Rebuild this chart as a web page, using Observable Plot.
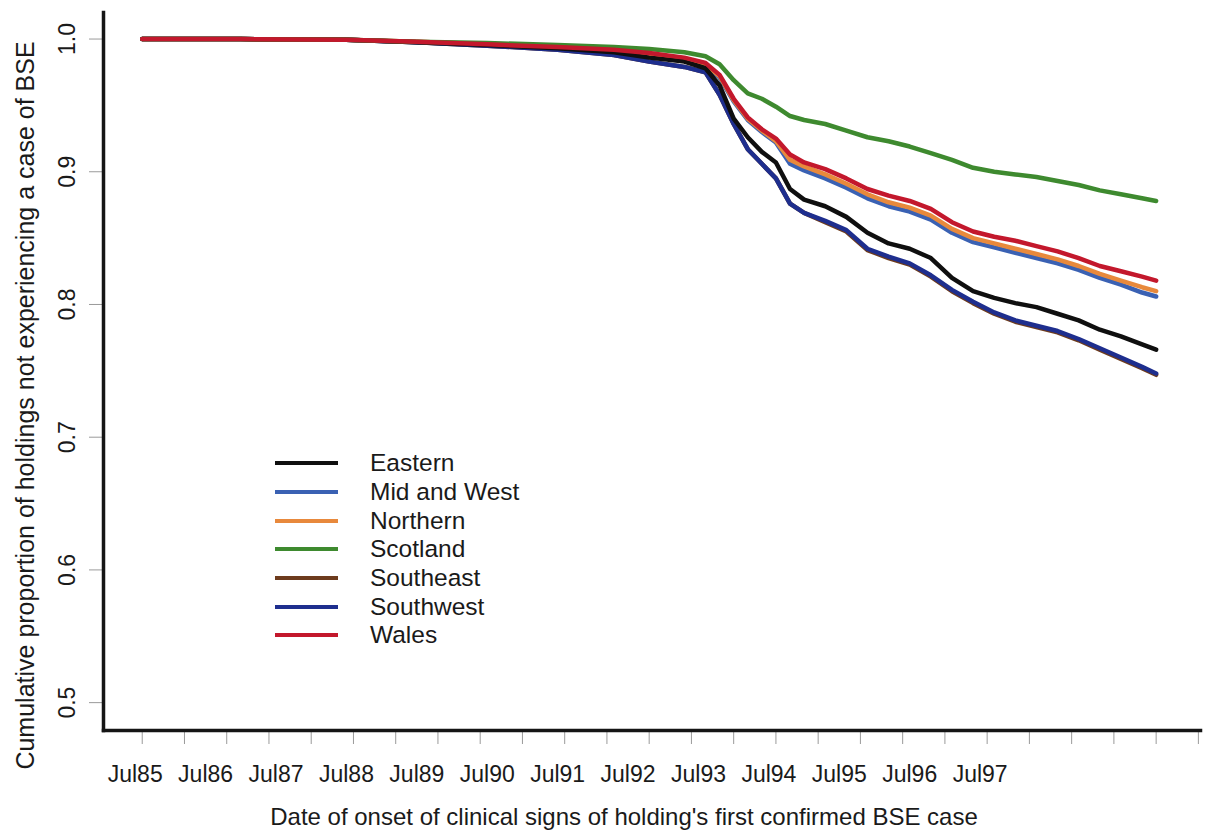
<!DOCTYPE html>
<html>
<head>
<meta charset="utf-8">
<script src="https://cdn.jsdelivr.net/npm/d3@7"></script>
<script src="https://cdn.jsdelivr.net/npm/@observablehq/plot@0.6"></script>
<style>
  body { margin: 0; background: #fff; font-family: "Liberation Sans", Arial, sans-serif; }
  #wrap { position: relative; width: 1205px; height: 832px; }
  #legend { position: absolute; left: 275px; top: 449px; }
  .row { display: flex; align-items: center; height: 28.7px; }
  .sw { width: 63px; height: 4px; margin-right: 32px; }
  .lab { font-size: 24.5px; color: #1a1a1a; }
</style>
</head>
<body>
<div id="wrap"><div id="legend"></div></div>
<script>
// Onset date (decimal years) shared by every region's curve
const years = [1985.6, 1987.0, 1988.5, 1989.5, 1990.5, 1991.5, 1992.3, 1992.8, 1993.3, 1993.6,
  1993.8, 1994.0, 1994.2, 1994.4, 1994.6, 1994.8, 1995.0, 1995.3, 1995.6, 1995.9,
  1996.2, 1996.5, 1996.8, 1997.1, 1997.4, 1997.7, 1998.0, 1998.3, 1998.6, 1998.9,
  1999.2, 1999.5, 1999.8, 2000.0];

// Cumulative proportion of holdings still free of BSE, by region
const eastern = [1.000, 1.000, 0.9995, 0.9975, 0.9955, 0.993, 0.990, 0.986, 0.983, 0.978,
  0.965, 0.940, 0.926, 0.915, 0.907, 0.887, 0.879, 0.874, 0.866, 0.854,
  0.846, 0.842, 0.835, 0.820, 0.810, 0.805, 0.801, 0.798, 0.793, 0.788,
  0.781, 0.776, 0.770, 0.766];
const midAndWest = [1.000, 1.000, 0.9995, 0.9978, 0.9958, 0.9935, 0.9915, 0.9885, 0.984, 0.980,
  0.971, 0.953, 0.939, 0.930, 0.922, 0.906, 0.901, 0.895, 0.888, 0.880,
  0.874, 0.870, 0.864, 0.854, 0.847, 0.843, 0.839, 0.835, 0.831, 0.826,
  0.820, 0.815, 0.809, 0.806];
const northern = [1.000, 1.000, 0.9995, 0.998, 0.996, 0.994, 0.992, 0.989, 0.985, 0.981,
  0.972, 0.954, 0.940, 0.931, 0.923, 0.909, 0.904, 0.898, 0.891, 0.883,
  0.877, 0.873, 0.867, 0.857, 0.850, 0.846, 0.842, 0.838, 0.834, 0.829,
  0.823, 0.818, 0.813, 0.810];
const scotland = [1.000, 1.000, 0.9995, 0.998, 0.997, 0.9955, 0.994, 0.9925, 0.990, 0.987,
  0.981, 0.969, 0.959, 0.955, 0.949, 0.942, 0.939, 0.936, 0.931, 0.926,
  0.923, 0.919, 0.914, 0.909, 0.903, 0.900, 0.898, 0.896, 0.893, 0.890,
  0.886, 0.883, 0.880, 0.878];
const southeast = [1.000, 1.000, 0.9995, 0.9975, 0.995, 0.992, 0.988, 0.983, 0.979, 0.975,
  0.958, 0.936, 0.917, 0.906, 0.895, 0.876, 0.869, 0.862, 0.855, 0.841,
  0.835, 0.830, 0.821, 0.810, 0.801, 0.793, 0.787, 0.783, 0.779, 0.773,
  0.766, 0.759, 0.752, 0.747];
const southwest = [1.000, 1.000, 0.9995, 0.9975, 0.995, 0.992, 0.988, 0.983, 0.979, 0.975,
  0.958, 0.936, 0.917, 0.906, 0.895, 0.876, 0.869, 0.863, 0.856, 0.842,
  0.836, 0.831, 0.822, 0.811, 0.802, 0.794, 0.788, 0.784, 0.780, 0.774,
  0.767, 0.760, 0.753, 0.748];
const wales = [1.000, 1.000, 0.9995, 0.998, 0.996, 0.994, 0.992, 0.9895, 0.986, 0.982,
  0.973, 0.955, 0.941, 0.932, 0.925, 0.913, 0.907, 0.902, 0.895, 0.887,
  0.882, 0.878, 0.872, 0.862, 0.855, 0.851, 0.848, 0.844, 0.840, 0.835,
  0.829, 0.825, 0.821, 0.818];

const regions = ["Eastern", "Mid and West", "Northern", "Scotland", "Southeast", "Southwest", "Wales"];
const regionValues = [eastern, midAndWest, northern, scotland, southeast, southwest, wales];
const regionColors = ["#0f0f0f", "#3a61b3", "#e8893c", "#3e8a2f", "#6d3b1d", "#1e2e8e", "#c3182c"];
// later entries are painted on top
const drawOrder = ["Southeast", "Southwest", "Mid and West", "Northern", "Eastern", "Scotland", "Wales"];

// x-axis labels and their dates
const labelYears = [1985.5, 1986.5, 1987.5, 1988.5, 1989.5, 1990.5, 1991.5, 1992.5, 1993.5, 1994.5, 1995.5, 1996.5, 1997.5];
const tickLabels = ["Jul85", "Jul86", "Jul87", "Jul88", "Jul89", "Jul90", "Jul91", "Jul92", "Jul93", "Jul94", "Jul95", "Jul96", "Jul97"];
const yTicks = [0.5, 0.6, 0.7, 0.8, 0.9, 1.0];

const xTitle = "Date of onset of clinical signs of holding's first confirmed BSE case";
const yTitle = "Cumulative proportion of holdings not experiencing a case of BSE";

// unlabelled tick marks spread evenly from the first observation onward
const tickStep = 0.6;
const tickMarks = d3.range(26).map(i => years[0] + i * tickStep);

const rows = regions.flatMap((r, k) => years.map((yr, i) => ({region: r, year: yr, value: regionValues[k][i]})));
const colorOf = Object.fromEntries(regions.map((r, i) => [r, regionColors[i]]));

const chart = Plot.plot({
  width: 1205,
  height: 832,
  marginLeft: 103,
  marginRight: 5,
  marginTop: 12,
  marginBottom: 102,
  x: {domain: [1985.05, 2000.63]},
  y: {domain: [0.479, 1.02]},
  style: {fontFamily: "'Liberation Sans', Arial, sans-serif", color: "#1a1a1a", background: "#fff"},
  marks: [
    Plot.axisX({ticks: tickMarks, tickSize: 14, tickFormat: () => "", stroke: "#9a9a9a", label: null}),
    Plot.axisX({ticks: labelYears, tickSize: 0, tickPadding: 35, fontSize: 23,
      tickFormat: d => tickLabels[labelYears.indexOf(d)], label: null}),
    Plot.axisY({ticks: yTicks, tickSize: 14, tickFormat: () => "", stroke: "#9a9a9a", label: null}),
    Plot.text(yTicks, {y: d => d, text: d => d.toFixed(1), frameAnchor: "left", textAnchor: "middle",
      dx: -36, rotate: -90, fontSize: 23, fill: "#1a1a1a"}),
    ...drawOrder.map(r => Plot.line(rows.filter(d => d.region === r), {
      x: "year", y: "value", stroke: colorOf[r], strokeWidth: 4.5, strokeLinejoin: "round", strokeLinecap: "round"
    })),
    Plot.frame({anchor: "left", stroke: "#151515", strokeWidth: 3.5}),
    Plot.frame({anchor: "bottom", stroke: "#151515", strokeWidth: 3.5}),
    Plot.text([xTitle], {frameAnchor: "bottom", textAnchor: "middle", dx: -28, dy: 94, fontSize: 24, fill: "#1a1a1a"}),
    Plot.text([yTitle], {frameAnchor: "left", textAnchor: "middle", dx: -78, dy: 34, rotate: -90, fontSize: 25, fill: "#1a1a1a"})
  ]
});
document.getElementById("wrap").prepend(chart);

// legend drawn inside the plot area
const legend = document.getElementById("legend");
regions.forEach((r, i) => {
  const row = document.createElement("div");
  row.className = "row";
  row.innerHTML = `<div class="sw" style="background:${regionColors[i]}"></div><span class="lab">${r}</span>`;
  legend.appendChild(row);
});
</script>
</body>
</html>
